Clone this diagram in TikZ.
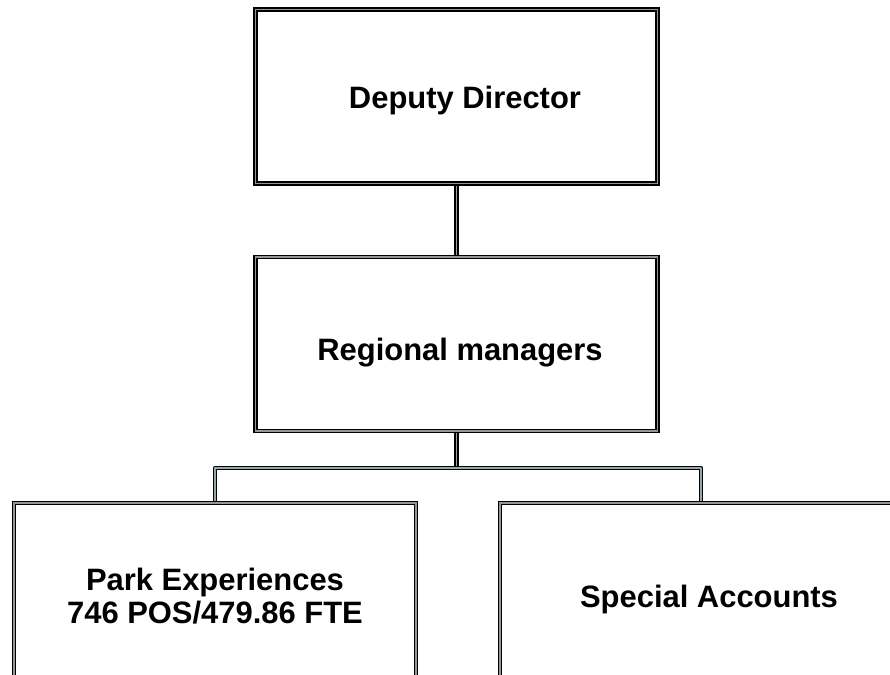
\documentclass[tikz,border=0pt]{standalone}
\usepackage{fontspec}
\setmainfont{Liberation Sans}
\begin{document}
\begin{tikzpicture}[x=0.75pt,y=-0.75pt,
  orgbox/.style={draw=black, line width=1.3pt, double={rgb,255:red,150;green,150;blue,150},
    double distance=1.0pt, fill=white, rectangle, inner sep=0pt,
    minimum width=402*0.75pt, minimum height=174*0.75pt},
  link/.style={draw=black, line width=1.3pt, double={rgb,255:red,145;green,168;blue,172},
    double distance=1.0pt, line join=round},
  lbl/.style={font=\fontsize{23.2}{24.8}\selectfont\bfseries, align=center, inner sep=0pt}]
\useasboundingbox (0,0) rectangle (890,675);
\clip (0,0) rectangle (890,675);

% box positions
\path (456.5,96.5) node[orgbox] (dep) {};
\path (456.5,344) node[orgbox] (reg) {};
\path (215,590) node[orgbox] (park) {};
\path (701,590) node[orgbox] (spec) {};
\coordinate (bus) at (456.5,468);

% connectors
\draw[link] (dep.south) -- (reg.north);
\draw[link] (reg.south) -- (bus);
\draw[link] (park.north) -- (park.north |- bus) -- (spec.north |- bus) -- (spec.north);

% redraw boxes over the connector ends
\path (456.5,96.5) node[orgbox] {};
\path (456.5,344) node[orgbox] {};
\path (215,590) node[orgbox] {};
\path (701,590) node[orgbox] {};

% labels
\node[lbl] (tdep) at (465,100) {Deputy Director};
\node[lbl] (treg) at (460,353) {Regional managers};
\node[lbl] (tpark) at (215,596) {Park Experiences\\746 POS/479.86 FTE};
\node[lbl] (tspec) at (709,599) {Special Accounts};
\end{tikzpicture}
\end{document}
